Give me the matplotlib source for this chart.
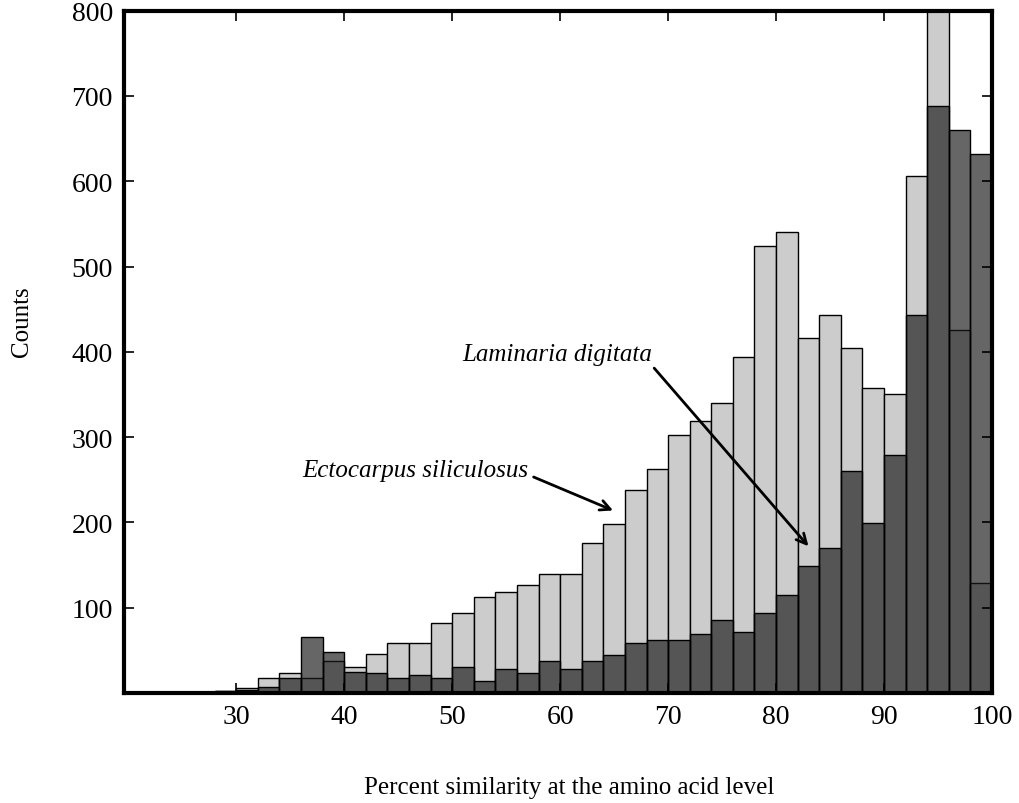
import matplotlib
matplotlib.use("Agg")
import matplotlib.pyplot as plt

# bin left edges (width 2) and counts per bin
bin_left = list(range(20, 100, 2))
bin_width = 2

ectocarpus = [1, 1, 1, 1, 2, 6, 17, 23, 17, 38,
              31, 46, 59, 59, 82, 94, 113, 118, 127, 140,
              140, 176, 198, 238, 263, 303, 319, 340, 394, 524,
              541, 416, 443, 405, 357, 350, 606, 870, 425, 129]

laminaria = [0, 0, 0, 0, 2, 4, 7, 17, 66, 48,
             25, 24, 17, 21, 17, 31, 14, 28, 24, 37,
             28, 38, 45, 59, 62, 62, 69, 86, 71, 94,
             115, 149, 170, 260, 199, 279, 443, 688, 660, 632]

x_ticks = [30, 40, 50, 60, 70, 80, 90, 100]
y_ticks = [100, 200, 300, 400, 500, 600, 700, 800]

plt.rcParams["font.family"] = ["Liberation Serif", "DejaVu Serif"]

fig = plt.figure(figsize=(10.2, 8.04), dpi=100)
ax = fig.add_axes([124 / 1020, 1 - 694 / 804, 868 / 1020, (694 - 11.6) / 804])

# light histogram behind, dark one on top with transparency
ax.bar(bin_left, ectocarpus, width=bin_width, align="edge",
       color="#cccccc", edgecolor="black", linewidth=1.0)
ax.bar(bin_left, laminaria, width=bin_width, align="edge",
       color=(0.1, 0.1, 0.1, 0.667), edgecolor="black", linewidth=1.0)

ax.set_xlim(19.6, 100)
ax.set_ylim(0, 800)
ax.set_xticks(x_ticks)
ax.set_yticks(y_ticks)
ax.tick_params(direction="in", length=7, width=1.2, top=True, right=True,
               labelsize=20, pad=8)
for side in ax.spines.values():
    side.set_linewidth(3)

# annotations
ax.annotate("Laminaria digitata", xy=(83.0, 172), xytext=(50.9, 397),
            fontsize=18, style="italic", va="center", ha="left",
            arrowprops=dict(arrowstyle="->", lw=2, color="black",
                            shrinkA=0, shrinkB=0,
                            relpos=(1.0, 0.0)))
ax.annotate("Ectocarpus siliculosus", xy=(64.9, 214), xytext=(36.1, 261),
            fontsize=18, style="italic", va="center", ha="left",
            arrowprops=dict(arrowstyle="->", lw=2, color="black",
                            shrinkA=2, shrinkB=0,
                            relpos=(1.0, 0.3)))

fig.text(569 / 1020, 1 - 788 / 804, "Percent similarity at the amino acid level",
         ha="center", va="center", fontsize=18)
fig.text(22 / 1020, 1 - 322 / 804, "Counts", ha="center", va="center",
         rotation=90, fontsize=18)

fig.savefig("out.png", dpi=100)
